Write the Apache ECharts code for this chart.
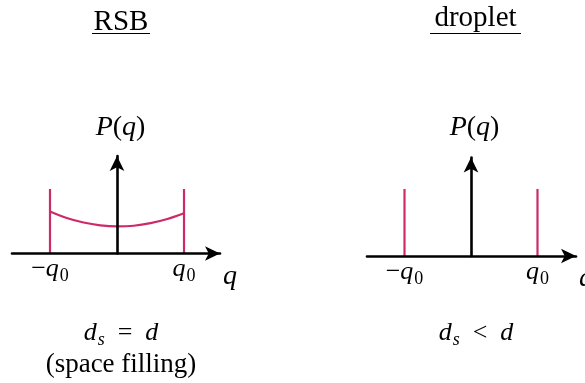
<!DOCTYPE html>
<html>
<head>
<meta charset="utf-8">
<script src="https://cdn.jsdelivr.net/npm/echarts@6/dist/echarts.min.js"></script>
<style>
  html, body { margin: 0; padding: 0; background: #ffffff; }
  #chart { width: 585px; height: 383px; }
</style>
</head>
<body>
<div id="chart"></div>
<script>
// Panel headings and captions
const panelTitles = ['RSB', 'droplet'];
const panelCaptions = ['{i|d}{si|s}{m|  =  }{i|d}', '{i|d}{si|s}{m|  <  }{i|d}'];
const rsbNote = '(space filling)';

// Tick positions on the q axis: −q0 and q0
const tickValues = [-1, 1];

// Delta peaks at ±q0 (both panels)
const peakQ = [-1, 1];
const peakHeight = [1, 1];

// Continuous part of P(q) between −q0 and q0 (RSB panel)
const rsbCurveQ = [-1, -0.75, -0.5, -0.25, 0, 0.25, 0.5, 0.75, 1];
const rsbCurveP = [0.65, 0.55, 0.48, 0.437, 0.42, 0.43, 0.47, 0.535, 0.625];

const SERIF = '"Liberation Serif", "DejaVu Serif", serif';
const PINK = '#cc2a68';
const INK = '#000000';

const richMath = {
  m: { fontFamily: SERIF, fontSize: 26, lineHeight: 30, color: INK },
  i: { fontFamily: SERIF, fontSize: 26, fontStyle: 'italic', lineHeight: 30, color: INK },
  s: { fontFamily: SERIF, fontSize: 18, lineHeight: 18, padding: [14, 0, 0, 1], color: INK },
  si: { fontFamily: SERIF, fontSize: 18, fontStyle: 'italic', lineHeight: 18, padding: [14, 0, 0, 1], color: INK }
};

const richText = {
  t: { fontFamily: SERIF, fontSize: 29, fontStyle: 'normal', color: INK },
  n: { fontFamily: SERIF, fontSize: 27, fontStyle: 'normal', color: INK }
};

function tickLabel(v) {
  return v < 0 ? '{m|\u2212}{i|q}{s|0}' : '{i|q}{s|0}';
}

function makeXAxis(gridIndex, min, max) {
  return {
    type: 'value', gridIndex, min, max, z: 5,
    axisLine: { onZero: true, symbol: ['none', 'arrow'], symbolSize: [11, 15],
                lineStyle: { color: INK, width: 2.6 } },
    axisTick: { show: false },
    splitLine: { show: false },
    axisLabel: {
      show: true, customValues: tickValues, formatter: tickLabel,
      margin: 16, verticalAlign: 'middle', rich: richMath
    },
    name: '{q|q}', nameLocation: 'end', nameGap: 10,
    nameTextStyle: { align: 'center', verticalAlign: 'middle',
                     rich: { q: { fontFamily: SERIF, fontStyle: 'italic', fontSize: 28, color: INK,
                                  lineHeight: 30, padding: [46, 0, 0, 0] } } }
  };
}

function makeYAxis(gridIndex, max, gap) {
  return {
    type: 'value', gridIndex, min: 0, max, z: 5,
    axisLine: { show: true, onZero: true, symbol: ['none', 'arrow'], symbolSize: [11, 15],
                lineStyle: { color: INK, width: 2.6 } },
    axisTick: { show: false },
    axisLabel: { show: false },
    splitLine: { show: false },
    name: '{i|P}{m|(}{i|q}{m|)}', nameLocation: 'end', nameGap: gap,
    nameTextStyle: { align: 'center', verticalAlign: 'middle', padding: [0, 0, 0, 7],
                     rich: {
                       m: { fontFamily: SERIF, fontSize: 28, color: INK },
                       i: { fontFamily: SERIF, fontSize: 28, fontStyle: 'italic', color: INK }
                     } }
  };
}

const series = [];
[0, 1].forEach(function (g) {
  peakQ.forEach(function (q, k) {
    series.push({
      type: 'line', xAxisIndex: g, yAxisIndex: g, z: 2,
      data: [[q, 0], [q, peakHeight[k]]],
      symbol: 'none', lineStyle: { color: PINK, width: 2.2 }, silent: true
    });
  });
});
series.push({
  type: 'line', xAxisIndex: 0, yAxisIndex: 0, z: 2,
  data: rsbCurveQ.map(function (q, k) { return [q, rsbCurveP[k]]; }),
  smooth: 0.4, symbol: 'none', lineStyle: { color: PINK, width: 2.2 }, silent: true
});

function label(x, y, text) {
  return { type: 'text', x: x, y: y,
           style: { text: text, align: 'center', verticalAlign: 'middle', rich: Object.assign({}, richMath, richText) } };
}

const option = {
  backgroundColor: '#ffffff',
  animation: false,
  grid: [
    { left: 12, top: 156, width: 208, height: 97.5, containLabel: false, outerBoundsMode: 'none' },
    { left: 367, top: 157.5, width: 209, height: 98.5, containLabel: false, outerBoundsMode: 'none' }
  ],
  xAxis: [ makeXAxis(0, -1.567, 1.537), makeXAxis(1, -1.564, 1.579) ],
  yAxis: [ makeYAxis(0, 1.512, 28), makeYAxis(1, 1.47, 29.5) ],
  series: series,
  graphic: [
    label(121, 22, '{t|' + panelTitles[0] + '}'),
    { type: 'line', shape: { x1: 92, y1: 33.5, x2: 150, y2: 33.5 }, style: { stroke: INK, lineWidth: 1.2 } },
    label(475.5, 18, '{t|' + panelTitles[1] + '}'),
    { type: 'line', shape: { x1: 430, y1: 33.5, x2: 521, y2: 33.5 }, style: { stroke: INK, lineWidth: 1.2 } },
    label(121, 333.5, panelCaptions[0]),
    label(121, 365, '{n|' + rsbNote + '}'),
    label(476, 333.5, panelCaptions[1])
  ]
};

const chart = echarts.init(document.getElementById('chart'), null, { renderer: 'canvas' });
chart.setOption(option);
</script>
</body>
</html>
